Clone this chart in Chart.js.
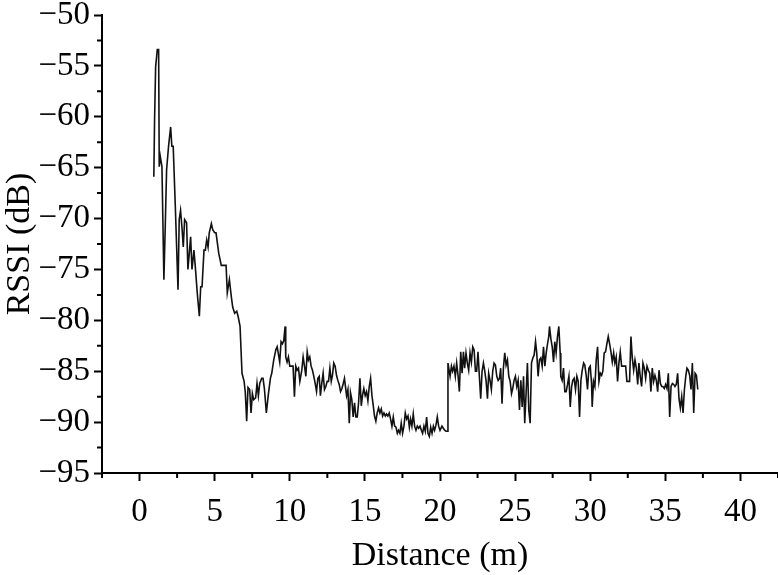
<!DOCTYPE html>
<html>
<head>
<meta charset="utf-8">
<script src="https://cdn.jsdelivr.net/npm/chart.js@4.4.1/dist/chart.umd.min.js"></script>
<style>
  html, body { margin: 0; padding: 0; background: #fff; }
  #wrap { width: 778px; height: 575px; }
</style>
</head>
<body>
<div id="wrap"><canvas id="rssiChart" width="778" height="575"></canvas></div>
<script>
const distance = [
  0.95, 1.00, 1.07, 1.18, 1.27, 1.31, 1.38, 1.49, 1.62, 1.71,
  1.80, 1.93, 2.07, 2.15, 2.24, 2.38, 2.56, 2.64, 2.73, 2.82,
  2.91, 3.00, 3.13, 3.22, 3.31, 3.40, 3.49, 3.62, 3.71, 3.84,
  3.98, 4.07, 4.16, 4.29, 4.38, 4.47, 4.56, 4.64, 4.78, 4.87,
  5.00, 5.09, 5.27, 5.44, 5.62, 5.76, 5.84, 5.98, 6.11, 6.20,
  6.33, 6.47, 6.56, 6.69, 6.82, 6.96, 7.04, 7.13, 7.22, 7.33,
  7.42, 7.51, 7.60, 7.73, 7.82, 7.91, 8.00, 8.13, 8.22, 8.31,
  8.44, 8.58, 8.71, 8.80, 8.93, 9.07, 9.16, 9.24, 9.33, 9.42,
  9.51, 9.60, 9.69, 9.73, 9.82, 9.91, 10.00, 10.09, 10.22, 10.31,
  10.40, 10.49, 10.58, 10.67, 10.80, 10.89, 10.98, 11.07, 11.16, 11.24,
  11.33, 11.42, 11.51, 11.60, 11.69, 11.78, 11.87, 11.96, 12.04, 12.13,
  12.22, 12.31, 12.40, 12.49, 12.58, 12.67, 12.76, 12.84, 12.93, 13.02,
  13.11, 13.20, 13.29, 13.38, 13.47, 13.56, 13.64, 13.78, 13.87, 13.96,
  14.04, 14.13, 14.22, 14.31, 14.40, 14.49, 14.58, 14.67, 14.76, 14.84,
  14.93, 15.02, 15.11, 15.20, 15.29, 15.38, 15.47, 15.56, 15.64, 15.73,
  15.82, 15.91, 16.00, 16.09, 16.18, 16.27, 16.36, 16.44, 16.53, 16.62,
  16.71, 16.80, 16.89, 16.98, 17.07, 17.16, 17.24, 17.33, 17.42, 17.51,
  17.60, 17.69, 17.78, 17.87, 17.96, 18.04, 18.13, 18.22, 18.31, 18.40,
  18.49, 18.58, 18.67, 18.76, 18.84, 18.93, 19.02, 19.11, 19.20, 19.29,
  19.38, 19.47, 19.56, 19.64, 19.73, 19.82, 19.91, 20.00, 20.13, 20.22,
  20.31, 20.40, 20.50, 20.53, 20.67, 20.76, 20.84, 20.93, 21.02, 21.11,
  21.20, 21.29, 21.38, 21.47, 21.56, 21.64, 21.73, 21.82, 21.91, 22.00,
  22.09, 22.18, 22.27, 22.36, 22.44, 22.53, 22.62, 22.71, 22.80, 22.89,
  22.98, 23.07, 23.16, 23.24, 23.33, 23.42, 23.51, 23.60, 23.69, 23.78,
  23.87, 23.96, 24.04, 24.13, 24.22, 24.31, 24.40, 24.49, 24.58, 24.67,
  24.76, 24.84, 24.93, 25.02, 25.11, 25.20, 25.29, 25.38, 25.47, 25.56,
  25.64, 25.73, 25.82, 25.91, 26.00, 26.09, 26.18, 26.27, 26.36, 26.44,
  26.53, 26.62, 26.71, 26.80, 26.89, 26.98, 27.07, 27.16, 27.24, 27.29,
  27.38, 27.47, 27.56, 27.64, 27.73, 27.82, 27.91, 28.00, 28.04, 28.13,
  28.22, 28.31, 28.40, 28.49, 28.58, 28.67, 28.76, 28.84, 28.93, 29.02,
  29.11, 29.20, 29.29, 29.38, 29.47, 29.56, 29.64, 29.73, 29.82, 29.91,
  30.00, 30.09, 30.13, 30.22, 30.31, 30.40, 30.49, 30.58, 30.67, 30.76,
  30.84, 30.93, 31.02, 31.11, 31.20, 31.29, 31.38, 31.47, 31.56, 31.64,
  31.73, 31.82, 31.91, 32.00, 32.09, 32.18, 32.27, 32.36, 32.44, 32.53,
  32.62, 32.71, 32.80, 32.89, 32.98, 33.07, 33.16, 33.24, 33.33, 33.42,
  33.51, 33.60, 33.69, 33.78, 33.87, 33.96, 34.04, 34.13, 34.22, 34.31,
  34.40, 34.49, 34.58, 34.67, 34.76, 34.84, 34.93, 35.02, 35.11, 35.20,
  35.29, 35.38, 35.47, 35.56, 35.64, 35.73, 35.82, 35.91, 36.00, 36.09,
  36.18, 36.27, 36.36, 36.44, 36.53, 36.62, 36.71, 36.80, 36.89, 36.98,
  37.07, 37.16
];

const rssi = [
  -65.9, -60.3, -55.1, -53.4, -53.4, -64.9, -63.9, -64.9, -76.0, -70.8,
  -65.2, -62.9, -61.0, -62.9, -62.9, -68.8, -77.0, -70.1, -69.2, -70.8,
  -72.8, -70.1, -70.4, -75.0, -73.4, -71.8, -75.0, -73.1, -74.7, -77.3,
  -79.6, -76.7, -76.7, -73.1, -73.1, -72.1, -72.8, -71.4, -70.5, -71.1,
  -71.4, -71.4, -73.4, -74.6, -74.6, -74.6, -77.3, -76.0, -77.7, -78.7,
  -79.3, -79.1, -79.6, -80.6, -85.2, -86.0, -87.1, -89.9, -86.6, -86.8,
  -89.1, -87.2, -87.8, -87.6, -86.2, -87.4, -86.2, -85.7, -85.7, -86.7,
  -89.1, -87.2, -85.7, -85.2, -83.9, -82.9, -82.6, -83.3, -84.1, -82.1,
  -82.3, -82.0, -80.6, -83.6, -84.1, -83.6, -84.5, -84.5, -84.5, -87.5,
  -84.5, -84.9, -84.7, -86.0, -84.9, -83.6, -84.5, -85.5, -83.1, -83.9,
  -83.6, -84.5, -84.9, -85.5, -86.2, -87.0, -85.7, -85.5, -87.4, -86.2,
  -85.2, -86.8, -86.5, -86.0, -86.0, -84.7, -86.0, -85.4, -84.2, -84.5,
  -85.4, -85.9, -86.3, -87.0, -86.7, -86.2, -85.7, -87.4, -86.8, -90.1,
  -87.1, -87.8, -89.5, -88.1, -89.5, -89.5, -88.1, -85.7, -88.4, -87.4,
  -86.7, -87.4, -87.0, -87.9, -86.5, -85.7, -87.4, -88.4, -89.4, -89.9,
  -89.1, -88.6, -89.1, -88.7, -89.4, -89.1, -89.4, -89.2, -89.4, -89.1,
  -89.7, -90.4, -89.5, -90.4, -90.5, -91.1, -90.8, -91.1, -90.1, -91.1,
  -90.4, -89.1, -89.7, -89.4, -90.5, -89.7, -90.4, -89.2, -90.4, -90.8,
  -90.4, -90.6, -90.4, -90.8, -91.1, -90.4, -90.9, -89.5, -91.1, -91.4,
  -90.5, -91.1, -90.4, -90.8, -90.3, -89.5, -90.4, -90.8, -90.4, -90.6,
  -90.8, -90.9, -90.9, -84.2, -85.5, -84.5, -85.0, -84.5, -85.5, -84.2,
  -85.4, -87.0, -83.1, -85.2, -83.1, -84.7, -83.2, -84.2, -84.9, -83.2,
  -84.1, -82.6, -82.9, -85.0, -85.0, -83.1, -85.5, -87.7, -85.0, -84.2,
  -85.0, -86.0, -87.7, -85.2, -85.9, -86.8, -85.0, -84.2, -84.4, -85.5,
  -85.9, -85.7, -84.7, -88.2, -84.7, -83.2, -84.4, -83.9, -85.5, -86.0,
  -87.2, -86.7, -85.9, -85.5, -86.5, -85.9, -88.8, -85.9, -88.5, -85.5,
  -90.1, -87.2, -84.2, -88.8, -90.1, -84.2, -83.7, -83.4, -82.1, -83.2,
  -85.5, -83.9, -83.7, -84.5, -82.6, -84.5, -83.2, -82.3, -81.6, -80.6,
  -81.8, -82.6, -84.1, -82.1, -83.2, -81.6, -80.6, -83.2, -85.5, -85.9,
  -84.7, -87.0, -87.0, -86.3, -85.5, -88.5, -86.5, -85.9, -85.7, -86.8,
  -85.5, -86.0, -89.5, -85.9, -84.9, -84.2, -84.4, -85.4, -86.8, -84.7,
  -84.5, -86.2, -88.5, -86.0, -86.5, -83.9, -82.6, -86.0, -85.2, -85.4,
  -85.0, -83.2, -83.1, -82.3, -81.6, -82.3, -83.1, -84.1, -83.2, -84.2,
  -83.6, -86.0, -84.2, -83.1, -84.5, -84.5, -84.5, -84.5, -86.0, -86.0,
  -86.0, -81.6, -83.7, -84.9, -83.9, -84.7, -86.3, -84.2, -85.5, -86.5,
  -84.2, -84.7, -85.7, -84.5, -84.9, -85.2, -87.0, -84.7, -86.0, -85.4,
  -85.9, -87.0, -84.9, -86.2, -86.5, -86.5, -86.7, -86.3, -86.7, -85.2,
  -89.5, -86.5, -86.2, -86.3, -86.5, -86.3, -85.2, -87.7, -88.6, -87.5,
  -89.1, -86.8, -85.5, -84.7, -84.9, -85.4, -86.8, -84.2, -89.1, -85.2,
  -85.4, -86.8
];

// Achsenbeschriftung
const xTicks = [0, 5, 10, 15, 20, 25, 30, 35, 40];
const xMinorTicks = [-2.5, 2.5, 7.5, 12.5, 17.5, 22.5, 27.5, 32.5, 37.5, 42.5];
const yTicks = [-95, -90, -85, -80, -75, -70, -65, -60, -55, -50];
const yMinorTicks = [-92.5, -87.5, -82.5, -77.5, -72.5, -67.5, -62.5, -57.5, -52.5];

const serif = "'Liberation Serif', 'Times New Roman', serif";

function minusLabel(value) {
    return value < 0 ? "\u2212" + Math.abs(value) : String(value);
}

// kurze Zwischenstriche an beiden Achsen
const minorTicks = {
    id: "minorTicks",
    afterDraw(chart) {
        const ctx = chart.ctx;
        const { left, bottom } = chart.chartArea;
        const xs = chart.scales.x;
        const ys = chart.scales.y;
        ctx.save();
        ctx.strokeStyle = "#000";
        ctx.lineWidth = 2;
        ctx.beginPath();
        xMinorTicks.forEach((v) => {
            const px = xs.getPixelForValue(v);
            ctx.moveTo(px, bottom);
            ctx.lineTo(px, bottom + 5);
        });
        yMinorTicks.forEach((v) => {
            const py = ys.getPixelForValue(v);
            ctx.moveTo(left, py);
            ctx.lineTo(left - 5, py);
        });
        ctx.stroke();
        ctx.restore();
    },
};

const points = distance.map((d, i) => ({ x: d, y: rssi[i] }));

new Chart(document.getElementById("rssiChart").getContext("2d"), {
    type: "line",
    data: {
        datasets: [
            {
                label: "RSSI",
                data: points,
                borderColor: "#111",
                borderWidth: 1.6,
                pointRadius: 0,
                tension: 0,
                fill: false,
            },
        ],
    },
    options: {
        responsive: false,
        animation: false,
        layout: { padding: { top: 15, right: 0, left: 0, bottom: 0 } },
        plugins: {
            legend: { display: false },
            tooltip: { enabled: false },
        },
        scales: {
            x: {
                type: "linear",
                min: -2.5,
                max: 42.5,
                afterBuildTicks: (s) => { s.ticks = xTicks.map((v) => ({ value: v })); },
                afterFit: (s) => { s.height = 102; s.paddingLeft = 0; s.paddingRight = 0; },
                ticks: {
                    color: "#000",
                    font: { family: serif, size: 33 },
                    padding: 12,
                    maxRotation: 0,
                    autoSkip: false,
                    callback: minusLabel,
                },
                grid: { drawOnChartArea: false, drawTicks: true, tickLength: 8, tickColor: "#000", tickWidth: 2 },
                border: { display: true, color: "#000", width: 2 },
                title: {
                    display: true,
                    text: "Distance (m)",
                    color: "#000",
                    font: { family: serif, size: 34, lineHeight: 1 },
                    padding: { top: 0, bottom: 2 },
                },
            },
            y: {
                type: "linear",
                min: -95,
                max: -50,
                afterBuildTicks: (s) => { s.ticks = yTicks.map((v) => ({ value: v })); },
                afterFit: (s) => { s.width = 102; s.paddingTop = 0; s.paddingBottom = 0; },
                ticks: {
                    color: "#000",
                    font: { family: serif, size: 33 },
                    padding: 4,
                    autoSkip: false,
                    callback: minusLabel,
                },
                grid: { drawOnChartArea: false, drawTicks: true, tickLength: 8, tickColor: "#000", tickWidth: 2 },
                border: { display: true, color: "#000", width: 2 },
                title: {
                    display: true,
                    text: "RSSI (dB)",
                    color: "#000",
                    font: { family: serif, size: 34, lineHeight: 1 },
                    padding: { top: 3, bottom: 0 },
                },
            },
        },
    },
    plugins: [minorTicks],
});
</script>
</body>
</html>
